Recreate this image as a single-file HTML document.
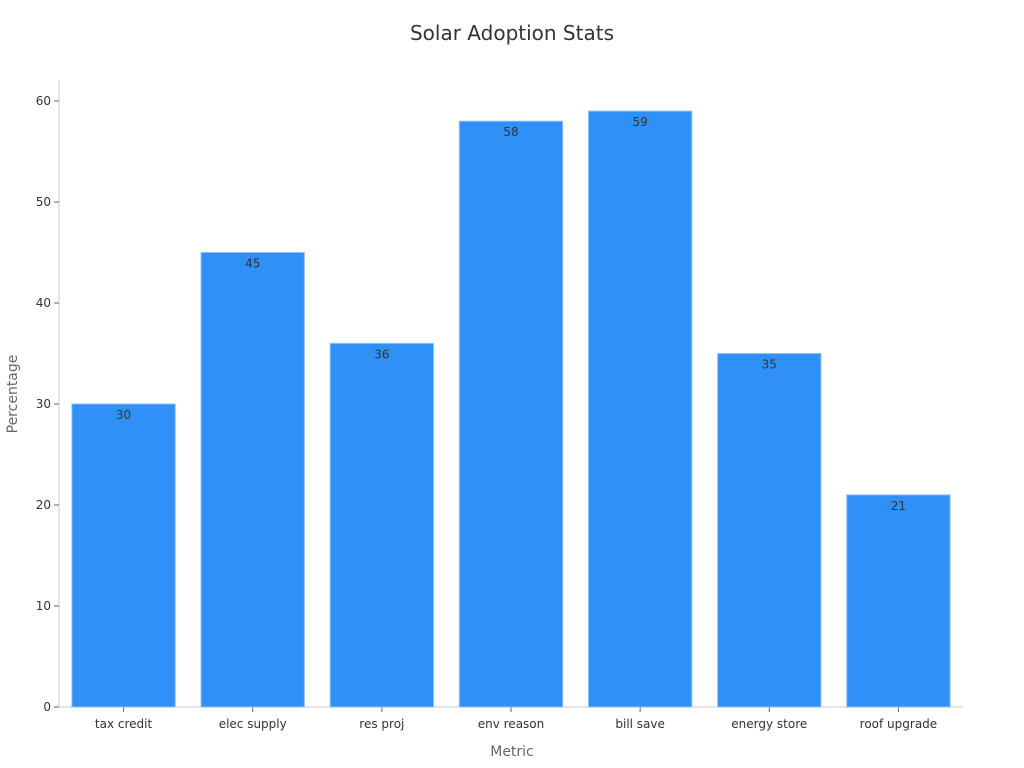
<!DOCTYPE html>
<html><head><meta charset="utf-8"><style>
body{margin:0;background:#fff;}
svg{display:block;font-family:"DejaVu Sans","Liberation Sans",sans-serif;}
</style></head><body>
<svg id="chart" width="1024" height="768">
<text x="512" y="40" text-anchor="middle" font-size="20" fill="#333">Solar Adoption Stats</text>
<g id="yaxis"></g>
<g id="xaxis"></g>
<g id="bars"></g>
<text x="512" y="756" text-anchor="middle" font-size="14" fill="#666">Metric</text>
<text transform="translate(17,394) rotate(-90)" text-anchor="middle" font-size="14" fill="#666">Percentage</text>
</svg>
<script>
const categories=["tax credit","elec supply","res proj","env reason","bill save","energy store","roof upgrade"];
const values=[30,45,36,58,59,35,21];
const yTicks=[0,10,20,30,40,50,60];
const NS="http://www.w3.org/2000/svg";
const x0=59,x1=963,y0=707,yTop=80;
const ppu=(707-101)/60;
const y=v=>y0-v*ppu;
const band=(x1-x0)/categories.length;
const xc=i=>x0+band*(i+0.5);
function mk(tag,attrs,parent){const e=document.createElementNS(NS,tag);for(const k in attrs)e.setAttribute(k,attrs[k]);parent.appendChild(e);return e;}
const ya=document.getElementById('yaxis'),xa=document.getElementById('xaxis'),bg=document.getElementById('bars');
let l=mk('line',{x1:x0,x2:x0,y1:yTop,y2:y0,stroke:'#ccc'},ya);


yTicks.forEach(t=>{
 const tk=mk('line',{x1:x0-5,x2:x0,y1:y(t),y2:y(t),stroke:'#666'},ya);
 
 
 const tx=mk('text',{x:x0-8,y:y(t)+4,'text-anchor':'end','font-size':12,fill:'#333'},ya);
 tx.textContent=t;
 
 
});
l=mk('line',{x1:x0,x2:x1,y1:y0,y2:y0,stroke:'#ccc'},xa);


const bw=band*0.8;
categories.forEach((c,i)=>{
 const tk=mk('line',{x1:xc(i),x2:xc(i),y1:y0,y2:y0+5,stroke:'#666'},xa);
 
 
 const tx=mk('text',{x:xc(i),y:y0+21,'text-anchor':'middle','font-size':12,fill:'#333'},xa);
 tx.textContent=c;
 
 
 const r=mk('rect',{x:xc(i)-bw/2,y:y(values[i]),width:bw,height:y0-y(values[i]),fill:'#2f91f7',stroke:'#8cc0f7','stroke-width':1},bg);
 
 
 const vt=mk('text',{x:xc(i),y:y(values[i])+15,'text-anchor':'middle','font-size':12,fill:'#333'},bg);
 vt.textContent=values[i];
 
 
});
</script>
</body></html>
